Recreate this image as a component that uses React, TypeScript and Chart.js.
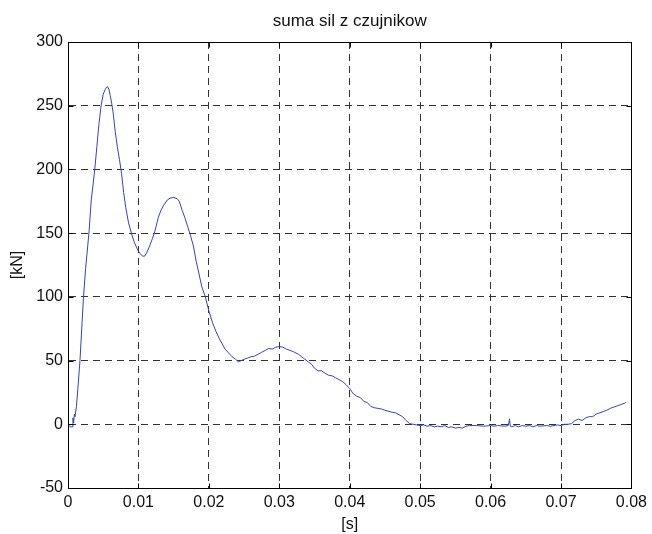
import React, { useEffect, useRef } from "react";
import { Chart, registerables } from "chart.js";

Chart.register(...registerables);

const TITLE = "suma sil z czujnikow";
const X_LABEL = "[s]";
const Y_LABEL = "[kN]";

const timeS: number[] = [
  0, 0.0003, 0.0006, 0.0007, 0.0008, 0.0009, 0.001, 0.0012, 0.0014, 0.0017,
  0.002, 0.0022, 0.0025, 0.0028, 0.003, 0.0033, 0.0036, 0.0038, 0.0041, 0.0044,
  0.0047, 0.005, 0.0053, 0.0056, 0.0058, 0.006, 0.0062, 0.0064, 0.0067, 0.007,
  0.0073, 0.0076, 0.0079, 0.0082, 0.0086, 0.009, 0.0094, 0.0098, 0.0102, 0.0106,
  0.0109, 0.0112, 0.0116, 0.012, 0.0123, 0.0125, 0.0128, 0.0132, 0.0136, 0.0141,
  0.0145, 0.015, 0.0155, 0.0158, 0.0162, 0.0166, 0.017, 0.0174, 0.0178, 0.0182,
  0.0186, 0.019, 0.0195, 0.02, 0.0205, 0.021, 0.0215, 0.0219, 0.0223, 0.0228,
  0.0233, 0.0238, 0.0242, 0.0246, 0.025, 0.0255, 0.026, 0.0265, 0.027, 0.0275,
  0.028, 0.0285, 0.029, 0.0295, 0.03, 0.0305, 0.031, 0.0315, 0.032, 0.0327,
  0.0334, 0.0341, 0.0346, 0.035, 0.0355, 0.036, 0.0365, 0.037, 0.0375, 0.038,
  0.0385, 0.039, 0.0395, 0.04, 0.0405, 0.041, 0.0415, 0.042, 0.0425, 0.043,
  0.0435, 0.044, 0.0445, 0.045, 0.046, 0.0465, 0.047, 0.0475, 0.048, 0.0485,
  0.049, 0.0495, 0.05, 0.0505, 0.051, 0.0515, 0.052, 0.0525, 0.053, 0.0535,
  0.054, 0.0545, 0.055, 0.0555, 0.056, 0.0565, 0.057, 0.058, 0.059, 0.06,
  0.0605, 0.061, 0.062, 0.0625, 0.0627, 0.0628, 0.063, 0.0635, 0.064, 0.0645,
  0.065, 0.0655, 0.066, 0.0665, 0.067, 0.068, 0.0685, 0.069, 0.0695, 0.07,
  0.0705, 0.071, 0.0715, 0.072, 0.0725, 0.073, 0.0735, 0.074, 0.0745, 0.075,
  0.0755, 0.076, 0.0765, 0.077, 0.0775, 0.078, 0.0785, 0.079, 0.0792,
];

const forceKN: number[] = [
  0, -2, -2, 5, 1, 8, 6, 14, 28, 50,
  80, 100, 122, 140, 152, 176, 190, 200, 218, 236,
  250, 259, 263, 265, 263, 258, 252, 245, 230, 218,
  208, 197, 182, 170, 158, 150, 143, 138, 134, 132,
  132, 135, 140, 146, 151, 155, 162, 168, 172, 176,
  177.5, 178, 177, 175, 168, 162, 155, 148, 140, 128,
  118, 108, 100, 89, 80, 73, 67, 63, 59, 56,
  53, 51, 49, 50, 51, 52, 53, 53.5, 55, 56.5,
  58, 59.5, 59, 60.5, 61, 60.5, 59, 58, 57, 55,
  52, 49, 47, 44, 42, 42, 40, 38.5, 38, 36.5,
  35, 33.5, 31, 28, 24, 22, 21, 18, 17, 14,
  13, 12.5, 12, 11, 9.5, 9, 7.5, 6, 3, 0.5,
  0, -0.5, -1, -0.5, -1.5, -1, -2, -1.5, -2, -1,
  -2.5, -2, -3, -2.5, -3, -1.5, -1, -1, -1.5, -1,
  -1.5, -1, -1.5, -1, 4, -1.5, -2, -1, -2, -1,
  -1.5, -1, -2, -1, -1.5, -1, -1.5, -1, -0.5, -1,
  0, 0, 0.5, 3, 4, 3, 5, 6, 6, 8,
  9, 10, 11, 12.5, 13.5, 14.5, 15.5, 16.5, 17,
];

const X_MIN = 0;
const X_MAX = 0.08;
const X_STEP = 0.01;
const Y_MIN = -50;
const Y_MAX = 300;
const Y_STEP = 50;

const FONT = "'Liberation Sans', Arial, Helvetica, sans-serif";

const boxPlugin = {
  id: "box",
  afterDraw(chart: any) {
    const { ctx, chartArea } = chart;
    const L = Math.round(chartArea.left) + 0.5;
    const T = Math.round(chartArea.top) + 0.5;
    const R = Math.round(chartArea.right) + 0.5;
    const B = Math.round(chartArea.bottom) + 0.5;
    ctx.save();
    ctx.strokeStyle = "#000";
    ctx.lineWidth = 1;
    ctx.setLineDash([]);
    ctx.strokeRect(L, T, R - L, B - T);
    const tk = 5;
    ctx.beginPath();
    const xs = chart.scales.x;
    xs.ticks.forEach((t: any) => {
      const p = Math.round(xs.getPixelForValue(t.value)) + 0.5;
      ctx.moveTo(p, B);
      ctx.lineTo(p, B - tk);
      ctx.moveTo(p, T);
      ctx.lineTo(p, T + tk);
    });
    const ys = chart.scales.y;
    ys.ticks.forEach((t: any) => {
      const p = Math.round(ys.getPixelForValue(t.value)) + 0.5;
      ctx.moveTo(L, p);
      ctx.lineTo(L + tk, p);
      ctx.moveTo(R, p);
      ctx.lineTo(R - tk, p);
    });
    ctx.stroke();
    ctx.restore();
  },
};

export default function App() {
  const ref = useRef<HTMLCanvasElement | null>(null);

  useEffect(() => {
    document.body.style.margin = "0";
    const canvas = ref.current;
    if (!canvas) return;
    const data = timeS.map((t, i) => ({ x: t, y: forceKN[i] }));
    const chart = new Chart(canvas, {
      type: "line",
      data: {
        datasets: [
          {
            data,
            borderColor: "#3344bb",
            borderWidth: 1,
            pointRadius: 0,
            tension: 0,
            fill: false,
          },
        ],
      },
      plugins: [boxPlugin],
      options: {
        animation: false,
        responsive: false,
        maintainAspectRatio: false,
        layout: { padding: { left: 0, right: 16, top: 0, bottom: 0 } },
        plugins: {
          legend: { display: false },
          tooltip: { enabled: false },
          title: {
            display: true,
            fullSize: false,
            text: TITLE,
            color: "#111",
            font: { family: FONT, size: 17, weight: "normal" },
            padding: { top: 11, bottom: 10.6 },
          },
        },
        scales: {
          x: {
            type: "linear",
            min: X_MIN,
            max: X_MAX,
            afterFit: (s: any) => {
              s.height = 46;
            },
            afterBuildTicks: (s: any) => {
              const t = [];
              for (let v = X_MIN; v <= X_MAX + 1e-9; v += X_STEP) t.push({ value: +v.toFixed(3) });
              s.ticks = t;
            },
            ticks: {
              color: "#111",
              font: { family: FONT, size: 16 },
              padding: 5,
              maxRotation: 0,
              autoSkip: false,
              callback: (v: any) => (v === 0 ? "0" : String(+(+v).toFixed(3))),
            },
            grid: {
              color: "#333",
              lineWidth: 1,
              drawTicks: false,
            },
            border: { display: true, color: "#000", dash: [7, 5] },
            title: {
              display: true,
              text: X_LABEL,
              color: "#111",
              font: { family: FONT, size: 16 },
              padding: { top: 0, bottom: 0 },
            },
          },
          y: {
            type: "linear",
            min: Y_MIN,
            max: Y_MAX,
            afterFit: (s: any) => {
              s.width = 68;
            },
            ticks: {
              stepSize: Y_STEP,
              color: "#111",
              font: { family: FONT, size: 16 },
              padding: 5,
              autoSkip: false,
            },
            grid: {
              color: "#333",
              lineWidth: 1,
              drawTicks: false,
            },
            border: { display: true, color: "#000", dash: [7, 5] },
            title: {
              display: true,
              text: Y_LABEL,
              color: "#111",
              font: { family: FONT, size: 16 },
              padding: { top: 8, bottom: 0 },
            },
          },
        },
      } as any,
    });
    return () => chart.destroy();
  }, []);

  return (
    <div style={{ width: 652, height: 534, background: "#fff" }}>
      <canvas ref={ref} width={652} height={534} style={{ display: "block" }} />
    </div>
  );
}
